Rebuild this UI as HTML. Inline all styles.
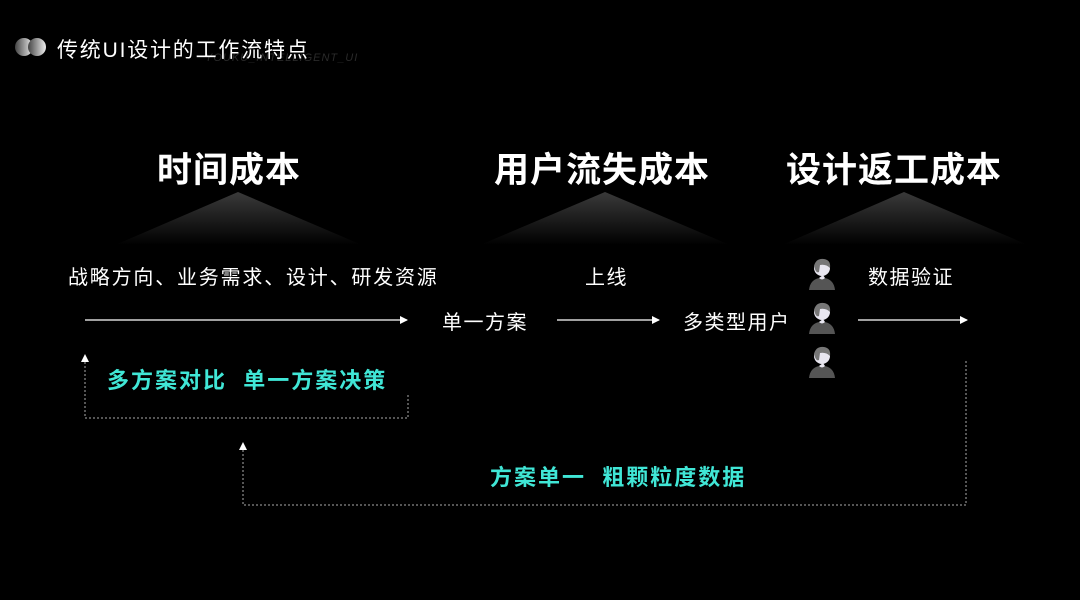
<!DOCTYPE html>
<html><head><meta charset="utf-8"><style>
body{margin:0;width:1080px;height:600px;background:#000;overflow:hidden;position:relative;font-family:"Liberation Sans","Noto Sans CJK SC",sans-serif;color:#fff}
.t{position:absolute;white-space:nowrap}
.s{font-size:20px;letter-spacing:1.5px}
.h{font-size:35px;font-weight:bold;letter-spacing:1px}
.c{font-size:22px;font-weight:bold;color:#40e6d6;letter-spacing:2px}
</style></head><body>
<svg width="1080" height="600" style="position:absolute;left:0;top:0">
<defs>
<linearGradient id="g" x1="0" y1="0" x2="0" y2="1"><stop offset="0" stop-color="#3a3a3a"/><stop offset="1" stop-color="#000"/></linearGradient>
<linearGradient id="c1" x1="0" x2="1"><stop offset="0" stop-color="#444"/><stop offset="1" stop-color="#eee"/></linearGradient>
<marker id="a" markerWidth="8" markerHeight="8" refX="7" refY="4" orient="auto" markerUnits="userSpaceOnUse"><path d="M0,0L8,4L0,8z" fill="#fff"/></marker>
<g id="p"><circle cx="0" cy="-8" r="8" fill="#e8e6f0"/><path d="M-8,-10 Q-6,-18 2,-17 Q9,-16 8,-8 Q4,-12 -2,-11 L-3,-4 Q-6,-2 -8,-10z" fill="#777"/><path d="M-13,14 Q-12,4 -3,2 L3,2 Q12,4 13,14z" fill="#555"/><path d="M-3,2 L1,-1 L3,2 Q0,5 -3,2z" fill="#e8e6f0"/></g>
</defs>
<circle cx="24" cy="47" r="9" fill="url(#c1)"/><circle cx="37" cy="47" r="9" fill="url(#c1)"/>
<path d="M238,192 L115,245 L362,245z" fill="url(#g)"/>
<path d="M605,192 L480,245 L730,245z" fill="url(#g)"/>
<path d="M904,192 L782,245 L1028,245z" fill="url(#g)"/>
<g stroke="#fff" stroke-width="1.3" fill="none">
<line x1="85" y1="320" x2="407" y2="320" marker-end="url(#a)"/>
<line x1="557" y1="320" x2="659" y2="320" marker-end="url(#a)"/>
<line x1="858" y1="320" x2="967" y2="320" marker-end="url(#a)"/>
</g>
<g stroke="#aaa" stroke-width="1" fill="none" stroke-dasharray="2,2">
<path d="M85,362 L85,418 L408,418 L408,395"/>
<path d="M243,450 L243,505 L966,505 L966,360"/>
</g>
<path d="M81,362L85,354L89,362z" fill="#fff"/>
<path d="M239,450L243,442L247,450z" fill="#fff"/>
<use href="#p" x="822" y="276"/><use href="#p" x="822" y="320"/><use href="#p" x="822" y="364"/>
</svg>
<div class="t" style="left:205px;top:52px;font-size:11px;color:#2a2a2a;font-style:italic;letter-spacing:1px">YOUKU_INTELLIGENT_UI</div>
<div class="t" style="left:57px;top:34px;font-size:21px;letter-spacing:1.8px">传统UI设计的工作流特点</div>
<div class="t h" style="left:157px;top:142px">时间成本</div>
<div class="t h" style="left:494px;top:142px">用户流失成本</div>
<div class="t h" style="left:786px;top:142px">设计返工成本</div>
<div class="t s" style="left:68px;top:261px;letter-spacing:1.8px">战略方向、业务需求、设计、研发资源</div>
<div class="t s" style="left:585px;top:261px">上线</div>
<div class="t s" style="left:868px;top:261px">数据验证</div>
<div class="t s" style="left:442px;top:306px">单一方案</div>
<div class="t s" style="left:683px;top:306px">多类型用户</div>
<div class="t c" style="left:107px;top:363px">多方案对比&nbsp;&nbsp;单一方案决策</div>
<div class="t c" style="left:490px;top:460px">方案单一&nbsp;&nbsp;粗颗粒度数据</div>
</body></html>
